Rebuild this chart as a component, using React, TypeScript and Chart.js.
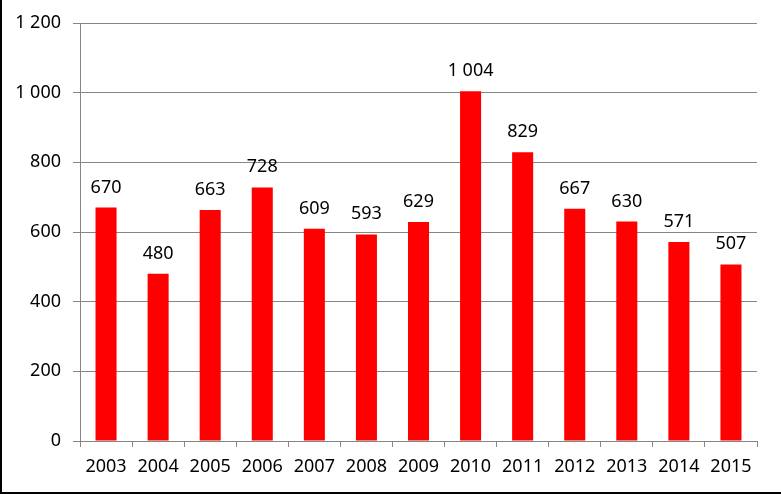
import React, { useEffect, useRef } from "react";
import { Chart, registerables } from "chart.js";

Chart.register(...registerables);

const years = ["2003", "2004", "2005", "2006", "2007", "2008", "2009", "2010", "2011", "2012", "2013", "2014", "2015"];
const counts = [670, 480, 663, 728, 609, 593, 629, 1004, 829, 667, 630, 571, 507];
const yTicks = [0, 200, 400, 600, 800, 1000, 1200];

const fmt = (v: number) => String(v).replace(/\B(?=(\d{3})+(?!\d))/g, " ");
const FONT = "'Noto Sans', 'Open Sans', sans-serif";

const labelPlugin = {
  id: "valueLabels",
  afterDatasetsDraw(chart: any) {
    const ctx = chart.ctx;
    const meta = chart.getDatasetMeta(0);
    ctx.save();
    ctx.font = `18px ${FONT}`;
    ctx.fillStyle = "#000";
    ctx.textAlign = "center";
    ctx.textBaseline = "alphabetic";
    meta.data.forEach((bar: any, i: number) => {
      ctx.fillText(fmt(counts[i]), bar.x, bar.y - 15);
    });
    ctx.restore();
  },
};

const framePlugin = {
  id: "frame",
  beforeDraw(chart: any) {
    const ctx = chart.ctx;
    ctx.save();
    ctx.fillStyle = "#fff";
    ctx.fillRect(0, 0, chart.width, chart.height);
    ctx.restore();
  },
  afterDraw(chart: any) {
    const ctx = chart.ctx;
    ctx.save();
    ctx.fillStyle = "#000";
    ctx.fillRect(0, 0, 2, chart.height);
    ctx.fillRect(0, chart.height - 2, chart.width, 2);
    ctx.restore();
  },
};

export default function App() {
  const ref = useRef<HTMLCanvasElement>(null);
  useEffect(() => {
    document.body.style.margin = "0";
    const chart = new Chart(ref.current!, {
      type: "bar",
      data: {
        labels: years,
        datasets: [
          {
            data: counts,
            backgroundColor: "#ff0000",
            barPercentage: 1,
            categoryPercentage: 0.404,
          },
        ],
      },
      options: {
        animation: false,
        responsive: false,
        devicePixelRatio: 1,
        layout: { padding: { left: 0, right: 24, top: 23, bottom: 0 } },
        plugins: { legend: { display: false }, tooltip: { enabled: false } },
        scales: {
          x: {
            grid: { drawOnChartArea: false, drawTicks: true, tickLength: 6, color: "#868686", offset: true },
            border: { color: "#868686", width: 1 },
            ticks: { font: { family: FONT, size: 18 }, color: "#000", padding: 9, maxRotation: 0 },
            afterFit: (s: any) => { s.height = 53; },
          },
          y: {
            min: 0,
            max: 1200,
            afterBuildTicks: (s: any) => { s.ticks = yTicks.map((v) => ({ value: v })); },
            grid: { color: "#868686", tickLength: 7, drawTicks: true },
            border: { color: "#868686", width: 1 },
            ticks: {
              font: { family: FONT, size: 18 },
              color: "#000",
              padding: 12,
              callback: (v: any) => fmt(Number(v)),
            },
            afterFit: (s: any) => { s.width = 80; },
          },
        },
      },
      plugins: [labelPlugin, framePlugin],
    });
    return () => chart.destroy();
  }, []);
  return <canvas ref={ref} width={781} height={494} style={{ display: "block" }} />;
}
